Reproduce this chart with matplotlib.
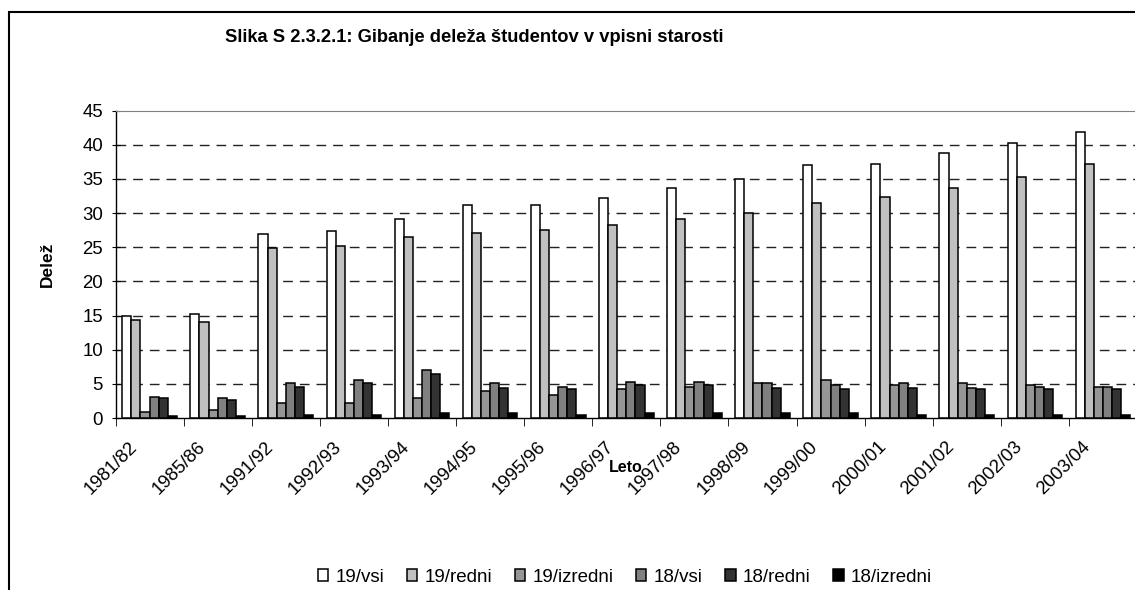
import numpy as np
import matplotlib
matplotlib.use('Agg')
import matplotlib.pyplot as plt
from matplotlib.patches import Rectangle
from matplotlib.transforms import ScaledTranslation

plt.rcParams['font.family'] = ['Liberation Sans', 'DejaVu Sans']

years = ['1981/82', '1985/86', '1991/92', '1992/93', '1993/94', '1994/95', '1995/96',
         '1996/97', '1997/98', '1998/99', '1999/00', '2000/01', '2001/02', '2002/03', '2003/04']

s19_vsi = [15.0, 15.2, 26.9, 27.3, 29.1, 31.1, 31.1, 32.2, 33.7, 35.0, 37.0, 37.2, 38.8, 40.3, 41.8]
s19_redni = [14.3, 14.1, 24.9, 25.2, 26.5, 27.1, 27.5, 28.2, 29.1, 30.0, 31.5, 32.4, 33.7, 35.2, 37.2]
s19_izredni = [0.9, 1.1, 2.2, 2.2, 2.9, 3.9, 3.3, 4.2, 4.6, 5.1, 5.5, 4.8, 5.1, 4.8, 4.6]
s18_vsi = [3.1, 2.9, 5.1, 5.5, 7.0, 5.1, 4.6, 5.3, 5.3, 5.1, 4.8, 5.1, 4.4, 4.6, 4.6]
s18_redni = [2.9, 2.7, 4.6, 5.1, 6.4, 4.4, 4.2, 4.8, 4.8, 4.4, 4.2, 4.4, 4.2, 4.2, 4.2]
s18_izredni = [0.3, 0.25, 0.5, 0.5, 0.7, 0.7, 0.5, 0.7, 0.7, 0.7, 0.7, 0.5, 0.5, 0.5, 0.5]

series = [s19_vsi, s19_redni, s19_izredni, s18_vsi, s18_redni, s18_izredni]
names = ['19/vsi', '19/redni', '19/izredni', '18/vsi', '18/redni', '18/izredni']
colors = ['#FFFFFF', '#C0C0C0', '#969696', '#808080', '#333333', '#000000']

fig = plt.figure(figsize=(11.35, 5.9), dpi=100)
ax = fig.add_axes([0.1018, 0.2915, 0.9, 0.5212])

x = np.arange(len(years)) + 0.5
w = 0.134
for k, (vals, nm, c) in enumerate(zip(series, names, colors)):
    ax.bar(x + (k - 2.5) * w, vals, w, color=c, edgecolor='black', linewidth=1.1,
           label=nm, zorder=3)

ax.set_xlim(0, 15)
ax.set_ylim(0, 45)
ax.set_yticks(range(0, 46, 5))
ax.tick_params(axis='y', labelsize=13.4, length=6, direction='inout', pad=6)
for yv in range(5, 45, 5):
    ax.axhline(yv, color='#222222', linestyle=(0, (7, 5)), linewidth=1.0, zorder=1)

ax.set_xticks(x)
ax.set_xticklabels(years, rotation=45, ha='right', va='center', rotation_mode='anchor')
ax.tick_params(axis='x', which='major', length=0, labelsize=13.4, pad=19)
ax.set_xticks(np.arange(0, 16), minor=True)
ax.tick_params(axis='x', which='minor', length=6, direction='out')
off = ScaledTranslation(-0.15, 0, fig.dpi_scale_trans)
for lab in ax.get_xticklabels():
    lab.set_transform(lab.get_transform() + off)

ax.spines['top'].set_color('#808080')
ax.spines['right'].set_visible(False)
ax.spines['left'].set_linewidth(1.0)
ax.spines['bottom'].set_linewidth(1.0)

ax.set_ylabel('Delež', fontsize=12.5, fontweight='bold', labelpad=20)
ax.set_xlabel('Leto', fontsize=11.5, fontweight='bold')
ax.xaxis.set_label_coords(0.4995, -0.135)

fig.text(474 / 1135, 1 - 38 / 590, 'Slika S 2.3.2.1: Gibanje deleža študentov v vpisni starosti',
         ha='center', va='center', fontsize=13.2, fontweight='bold')

fig.legend(loc='center', bbox_to_anchor=(625 / 1135, 1 - 577 / 590), ncol=6, frameon=False,
           fontsize=13.5, handlelength=0.55, handleheight=0.55, handletextpad=0.4,
           columnspacing=1.2, borderpad=0)

fig.patches.append(Rectangle((9 / 1135, -0.1), 1.2, 1.1 - 12 / 590, transform=fig.transFigure,
                             fill=False, edgecolor='black', linewidth=1.5))

fig.savefig('out.png', dpi=100)
